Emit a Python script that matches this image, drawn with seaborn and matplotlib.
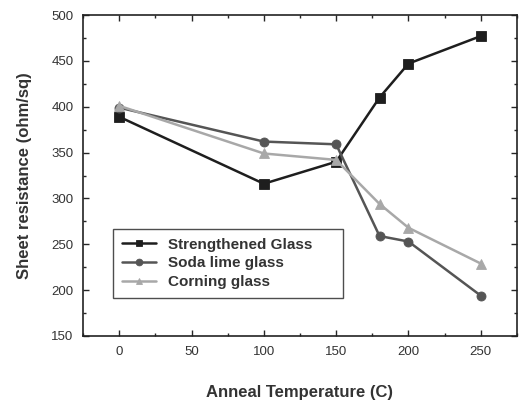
import numpy as np
import pandas as pd
import matplotlib
matplotlib.use("Agg")
import matplotlib.pyplot as plt
import seaborn as sns
from matplotlib.ticker import MultipleLocator

# datos
temperaturas = [0, 100, 150, 180, 200, 250]
strengthened = [389, 316, 340, 410, 447, 477]
soda_lime = [399, 362, 359, 259, 253, 194]
corning = [401, 349, 342, 294, 268, 229]
series = ["Strengthened Glass", "Soda lime glass", "Corning glass"]

df = pd.DataFrame({
    "temp": temperaturas * 3,
    "res": strengthened + soda_lime + corning,
    "muestra": [series[0]] * 6 + [series[1]] * 6 + [series[2]] * 6,
})

sns.set_style("ticks")
plt.rcParams["font.family"] = ["Liberation Sans", "DejaVu Sans"]

fig = plt.figure(figsize=(5.19, 4.0), dpi=100)
ax = fig.add_axes([0.16, 0.16, 0.836, 0.8025])

colores = {series[0]: "#1e1e1e", series[1]: "#555555", series[2]: "#a8a8a8"}
marcadores = {series[0]: "s", series[1]: "o", series[2]: "^"}

sns.lineplot(data=df, x="temp", y="res", hue="muestra", style="muestra",
             palette=colores, markers=marcadores, dashes=False,
             linewidth=1.8, markersize=6.5, markeredgewidth=0.6,
             markeredgecolor=None, ax=ax)

ax.set_xlim(-25, 275)
ax.set_ylim(150, 500)
ax.xaxis.set_major_locator(MultipleLocator(50))
ax.xaxis.set_minor_locator(MultipleLocator(25))
ax.yaxis.set_major_locator(MultipleLocator(50))
ax.yaxis.set_minor_locator(MultipleLocator(25))
ax.tick_params(which="both", direction="in", top=True, right=True,
               labelsize=9.5, labelcolor="#333333", width=1.0)
ax.tick_params(which="major", length=4.5, pad=7)
ax.tick_params(which="minor", length=2)
for s in ax.spines.values():
    s.set_linewidth(1.2)
    s.set_color("#222222")

ax.set_xlabel("Anneal Temperature (C)", fontsize=12, fontweight="bold",
              color="#333333", labelpad=20)
ax.set_ylabel("Sheet resistance (ohm/sq)", fontsize=12, fontweight="bold",
              color="#333333", labelpad=14)

leg = ax.legend(loc="lower left", bbox_to_anchor=(0.069, 0.118, 0.53, 0.2),
                mode="expand", borderaxespad=0,
                frameon=True, fancybox=False, edgecolor="#222222",
                prop={"weight": "bold", "size": 11}, handlelength=2.2,
                borderpad=0.6, labelspacing=0.3, markerscale=0.75)
leg.get_frame().set_linewidth(1.0)
for t in leg.get_texts():
    t.set_color("#333333")

fig.savefig("out.png", dpi=100)
